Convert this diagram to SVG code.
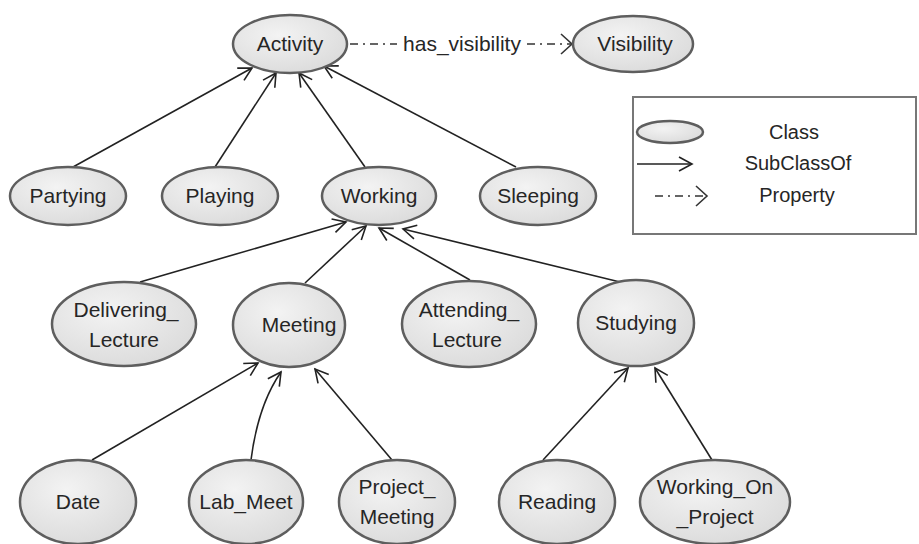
<svg xmlns="http://www.w3.org/2000/svg" width="919" height="544" viewBox="0 0 919 544">
<style>
.node ellipse{fill:url(#g);stroke:#5e5e5e;stroke-width:2.5}
.node text,.lg text,.lbl{font-family:"Liberation Sans",Arial,sans-serif;font-size:21px;fill:#262626;text-anchor:middle}
.lg text{font-size:20px}
.e{stroke:#222;stroke-width:1.6;fill:none;marker-end:url(#arr)}
.d{stroke:#333;stroke-width:1.5;fill:none;stroke-dasharray:8 5 2 5}
</style>
<defs>
<radialGradient id="g" cx="0.4" cy="0.35" r="0.75">
<stop offset="0" stop-color="#f3f3f3"/>
<stop offset="1" stop-color="#d9d9d9"/>
</radialGradient>
<marker id="arr" viewBox="-15 -9 17 18" refX="0" refY="0" markerWidth="17" markerHeight="18" markerUnits="userSpaceOnUse" orient="auto">
<path d="M-13,-7 L0,0 L-13,7" fill="none" stroke="#222" stroke-width="1.6"/>
</marker>
<marker id="arrd" viewBox="-15 -11 17 22" refX="0" refY="0" markerWidth="17" markerHeight="22" markerUnits="userSpaceOnUse" orient="auto">
<path d="M-11,-10 L0,0 L-11,10" fill="none" stroke="#333" stroke-width="1.6"/>
</marker>
</defs>
<rect width="919" height="544" fill="#fff"/>

<g id="edges">
<line class="e" x1="73" y1="167" x2="252" y2="68"/>
<line class="e" x1="215" y1="167" x2="276" y2="73"/>
<line class="e" x1="365" y1="167" x2="299" y2="73"/>
<line class="e" x1="516" y1="167" x2="324" y2="66"/>
<line class="e" x1="140" y1="282" x2="346" y2="222"/>
<line class="e" x1="305" y1="283" x2="366" y2="226"/>
<line class="e" x1="470" y1="280" x2="379" y2="228"/>
<line class="e" x1="620" y1="282" x2="403" y2="229"/>
<line class="e" x1="92" y1="460" x2="258" y2="363"/>
<path class="e" d="M251,460 Q258,405 281,372"/>
<line class="e" x1="392" y1="460" x2="315" y2="369"/>
<line class="e" x1="543" y1="460" x2="628" y2="368"/>
<line class="e" x1="712" y1="460" x2="655" y2="368"/>
<line class="d" x1="350" y1="44" x2="397" y2="44"/>
<line class="d" x1="527" y1="44" x2="572" y2="44" marker-end="url(#arrd)"/>
<text class="lbl" x="462" y="51">has_visibility</text>
</g>

<g id="activity" class="node"><ellipse cx="290" cy="44" rx="57" ry="29"/><text x="290" y="51">Activity</text></g>
<g id="visibility" class="node"><ellipse cx="633" cy="44" rx="60" ry="28"/><text x="635" y="51">Visibility</text></g>
<g id="partying" class="node"><ellipse cx="68" cy="196" rx="58" ry="29"/><text x="68" y="203">Partying</text></g>
<g id="playing" class="node"><ellipse cx="220" cy="196" rx="58" ry="29"/><text x="220" y="203">Playing</text></g>
<g id="working" class="node"><ellipse cx="379" cy="196" rx="57" ry="29"/><text x="379" y="203">Working</text></g>
<g id="sleeping" class="node"><ellipse cx="538" cy="196" rx="58" ry="29"/><text x="538" y="203">Sleeping</text></g>
<g id="delivering_lecture" class="node"><ellipse cx="124" cy="324" rx="72" ry="42"/><text x="126" y="317">Delivering_</text><text x="124" y="347">Lecture</text></g>
<g id="meeting" class="node"><ellipse cx="289" cy="325" rx="56" ry="42"/><text x="299" y="332">Meeting</text></g>
<g id="attending_lecture" class="node"><ellipse cx="469" cy="324" rx="67" ry="43"/><text x="469" y="317">Attending_</text><text x="467" y="347">Lecture</text></g>
<g id="studying" class="node"><ellipse cx="636" cy="323" rx="58" ry="43"/><text x="636" y="330">Studying</text></g>
<g id="date" class="node"><ellipse cx="78" cy="502" rx="58" ry="42"/><text x="78" y="509">Date</text></g>
<g id="lab_meet" class="node"><ellipse cx="246" cy="502" rx="57" ry="42"/><text x="246" y="509">Lab_Meet</text></g>
<g id="project_meeting" class="node"><ellipse cx="397" cy="502" rx="58" ry="42"/><text x="397" y="494">Project_</text><text x="397" y="524">Meeting</text></g>
<g id="reading" class="node"><ellipse cx="557" cy="502" rx="58" ry="42"/><text x="557" y="509">Reading</text></g>
<g id="working_on_project" class="node"><ellipse cx="715" cy="502" rx="75" ry="42"/><text x="715" y="494">Working_On</text><text x="715" y="524">_Project</text></g>

<g id="legend" class="lg">
<rect x="633" y="97" width="283" height="137" fill="#fff" stroke="#777" stroke-width="2"/>
<ellipse cx="670" cy="132" rx="33" ry="11" fill="url(#g)" stroke="#5e5e5e" stroke-width="2.5"/>
<text x="794" y="139">Class</text>
<line x1="637" y1="164" x2="692" y2="164" stroke="#222" stroke-width="1.6" marker-end="url(#arr)"/>
<text x="798" y="170">SubClassOf</text>
<line x1="655" y1="196" x2="707" y2="196" class="d" marker-end="url(#arrd)"/>
<text x="797" y="202">Property</text>
</g>
</svg>
